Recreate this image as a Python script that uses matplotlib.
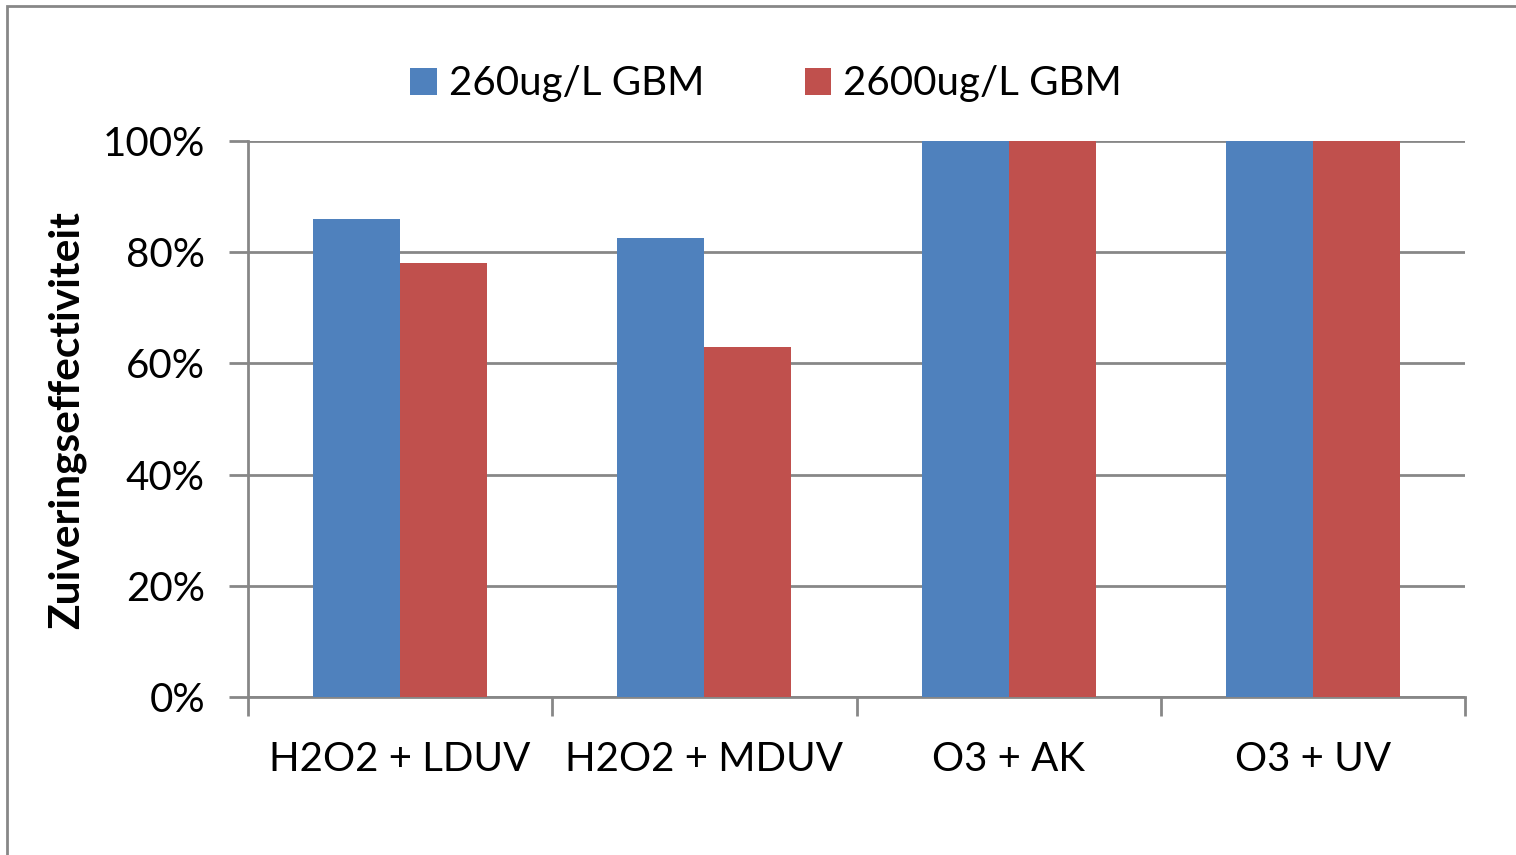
import numpy as np
import matplotlib
matplotlib.use('Agg')
import matplotlib.pyplot as plt
from matplotlib.patches import Rectangle

# data
categories = ["H2O2 + LDUV", "H2O2 + MDUV", "O3 + AK", "O3 + UV"]
series_names = ["260ug/L GBM", "2600ug/L GBM"]
low_dose = [0.86, 0.825, 1.0, 1.0]
high_dose = [0.78, 0.63, 1.0, 1.0]
yticks = [0, 0.2, 0.4, 0.6, 0.8, 1.0]
ytick_labels = ["0%", "20%", "40%", "60%", "80%", "100%"]

plt.rcParams['font.family'] = ['Lato', 'DejaVu Sans']
grey = "#878787"

fig = plt.figure(figsize=(15.16, 8.55), dpi=100)
#outer chart border (cut off at right and bottom in the original)
fig.patches.append(Rectangle((7/1516, -0.1), 1.2, 1 - 6/855 + 0.1, transform=fig.transFigure,
                             fill=False, edgecolor=grey, linewidth=2))
ax = fig.add_axes([248/1516, 1 - 697/855, (1465-248)/1516, (697-141)/855])

x = np.arange(len(categories))
w = 0.286
ax.bar(x - w/2, low_dose, w, color="#4F81BD", label=series_names[0], zorder=3)
ax.bar(x + w/2, high_dose, w, color="#C0504D", label=series_names[1], zorder=3)

ax.set_xlim(-0.5, len(categories) - 0.5)
ax.set_ylim(0, 1.0)
ax.set_yticks(yticks)
ax.set_yticklabels(ytick_labels, fontsize=29)
ax.yaxis.grid(True, color=grey, linewidth=2, zorder=0)
ax.set_xticks(x)
ax.set_xticklabels(categories, fontsize=29)
ax.tick_params(axis='x', length=0, pad=32)
ax.tick_params(axis='y', length=14, width=2, color=grey, pad=17)
#category boundary ticks
ax.set_xticks(np.arange(-0.5, len(categories)), minor=True)
ax.tick_params(axis='x', which='minor', length=14, width=2, color=grey)

for s in ["top", "right"]:
    ax.spines[s].set_visible(False)
for s in ["left", "bottom"]:
    ax.spines[s].set_color(grey)
    ax.spines[s].set_linewidth(2)

fig.text(67/1516, 1 - 420/855, "Zuiveringseffectiviteit", rotation=90, fontsize=30.5,
         fontweight='bold', ha='center', va='center')

fig.legend(loc='center', bbox_to_anchor=(766/1516, 1 - 84/855), ncol=2, frameon=False,
           fontsize=29, handlelength=0.65, handleheight=0.65, handletextpad=0.3,
           columnspacing=2.5)

fig.savefig("out.png", dpi=100)
